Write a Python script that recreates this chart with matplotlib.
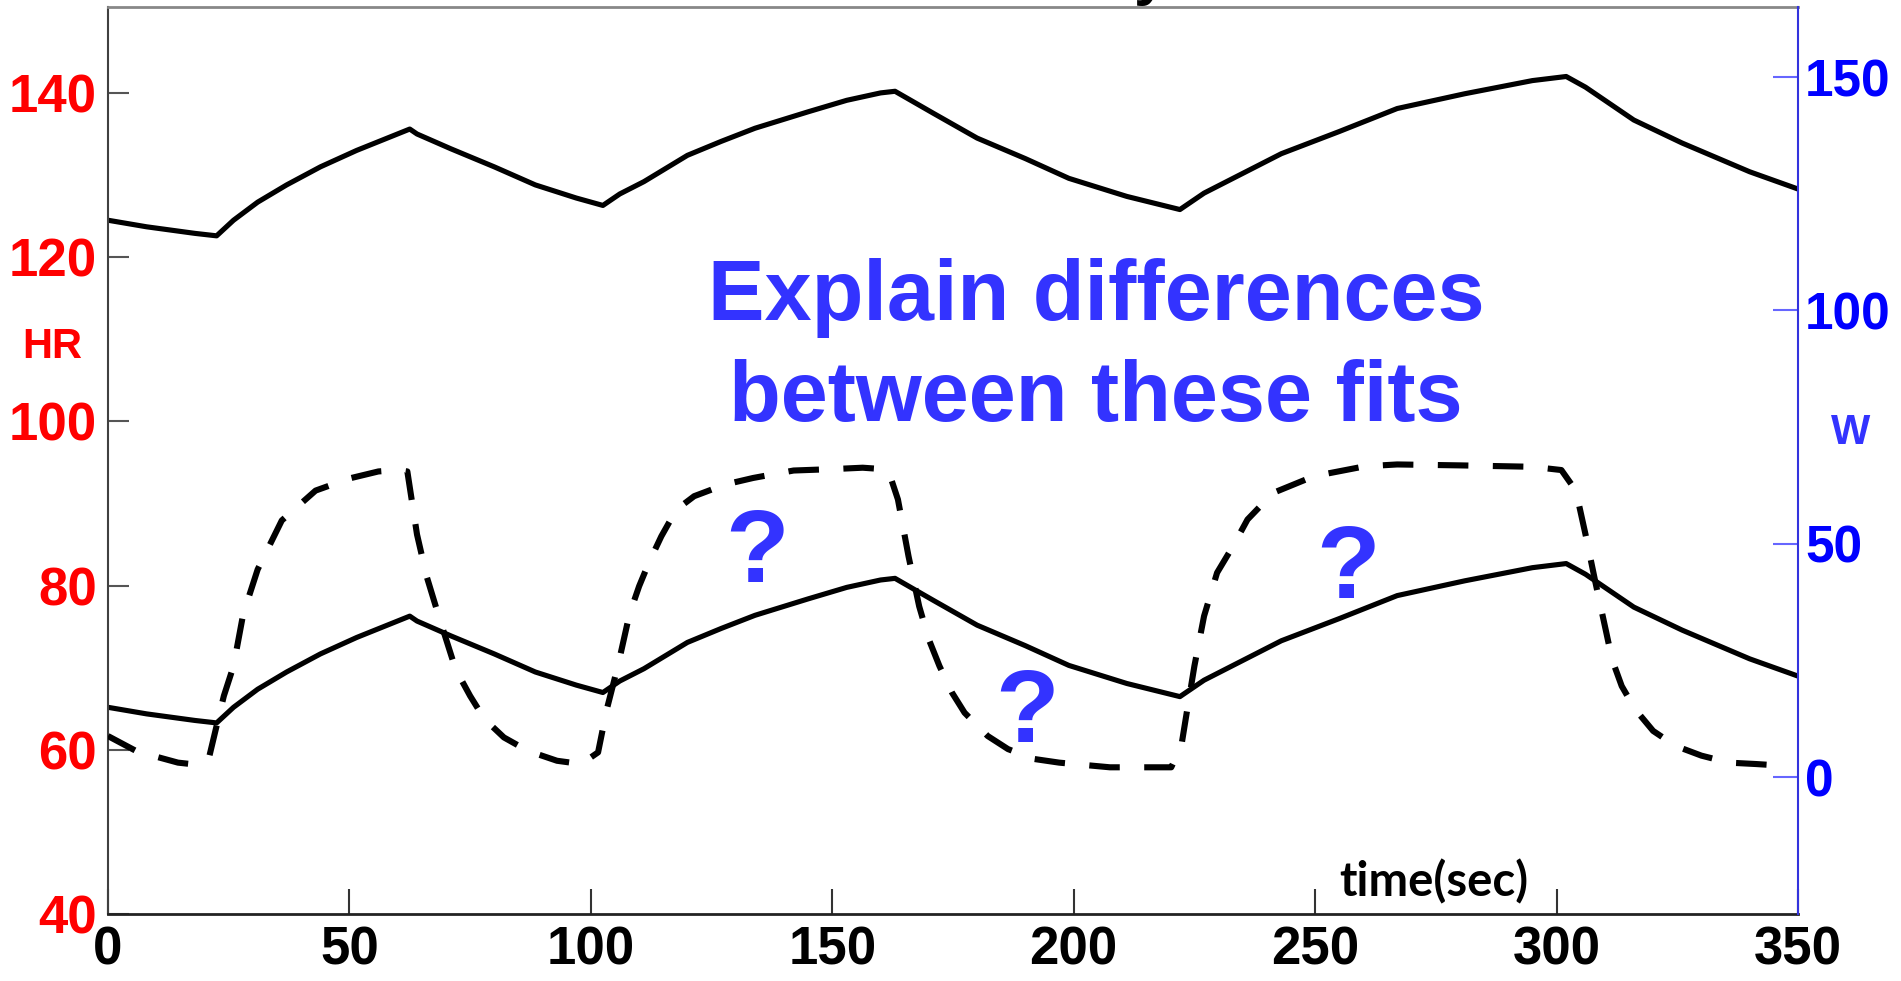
import numpy as np
import matplotlib
matplotlib.use("Agg")
from matplotlib import pyplot as plt

plt.rcParams['font.family'] = ['Liberation Sans', 'DejaVu Sans']
plt.rcParams['font.weight'] = 'bold'

# heart rate (left axis)
t_hr = [0, 8, 18, 22.5, 26, 31, 37, 44, 51.5, 57, 62.5, 64, 71, 80, 88.5, 97, 102.5,
        106, 111, 120, 127, 134, 145, 153, 160, 163, 171, 180, 190, 199, 211, 222,
        227, 235, 243, 255, 267, 281, 295, 302, 306, 316, 326, 340, 350]
hr_top = [124.5, 123.7, 122.9, 122.6, 124.5, 126.7, 128.8, 131.0, 133.0, 134.3, 135.6,
          135.0, 133.2, 131.0, 128.8, 127.2, 126.3, 127.7, 129.2, 132.4, 134.1, 135.7,
          137.7, 139.1, 140.0, 140.2, 137.5, 134.5, 132.0, 129.6, 127.4, 125.8, 127.8,
          130.2, 132.6, 135.3, 138.1, 139.9, 141.5, 142.0, 140.7, 136.7, 133.9, 130.4, 128.3]
hr_low = [65.2, 64.4, 63.6, 63.3, 65.2, 67.4, 69.5, 71.7, 73.7, 75.0, 76.3, 75.7, 73.9,
          71.7, 69.5, 67.9, 67.0, 68.4, 69.9, 73.1, 74.8, 76.4, 78.4, 79.8, 80.7, 80.9,
          78.2, 75.2, 72.7, 70.3, 68.1, 66.5, 68.5, 70.9, 73.3, 76.0, 78.8, 80.6, 82.2,
          82.7, 81.4, 77.4, 74.6, 71.1, 69.0]

# work rate W (right axis)
t_w = [0, 6, 14.5, 18, 21, 22.5, 24, 26, 28, 31, 36, 43, 50, 56, 60, 62, 64, 66, 68.5,
       72, 75, 78, 82, 87, 93, 98, 101.5, 103.3, 105.6, 108, 110, 112, 114.6, 117.7,
       121.4, 127.8, 133.6, 142, 150, 156.3, 160.5, 162, 163.6, 165.8, 168, 170, 172.2,
       174.8, 177.4, 182.2, 186.4, 191.7, 197, 207.5, 220.2, 222.3, 223.3, 225, 227,
       229.7, 233, 236, 241.3, 249.8, 260.3, 267, 280, 295, 301, 304, 306, 308, 310.3,
       311.5, 313.5, 316.3, 320, 324.6, 330, 335.7, 341.3, 347.5]
w = [8.8, 5.5, 3.1, 2.7, 4.5, 11.0, 17.4, 23.8, 34.9, 44.5, 55.0, 61.4, 64.0, 65.5,
     65.8, 65.5, 52.0, 43.0, 34.5, 23.1, 17.4, 12.4, 8.5, 5.6, 3.5, 2.8, 5.3, 14.5,
     23.8, 34.9, 40.9, 45.9, 51.6, 57.3, 60.2, 62.7, 64.1, 65.7, 66.0, 66.3, 66.0,
     64.5, 59.5, 47.3, 36.6, 29.5, 23.8, 18.1, 13.8, 8.8, 6.0, 3.9, 3.1, 2.1, 2.1,
     6.7, 13.1, 23.8, 34.5, 43.8, 49.5, 55.2, 60.9, 64.5, 66.6, 67.0, 66.8, 66.5,
     65.8, 61.4, 52.0, 42.0, 31.0, 25.2, 19.5, 14.5, 9.9, 6.7, 4.6, 3.1, 2.8, 2.4]

x_ticks = [0, 50, 100, 150, 200, 250, 300, 350]
hr_ticks = [40, 60, 80, 100, 120, 140]
w_ticks = [0, 50, 100, 150]

fig = plt.figure(figsize=(19.01, 9.81), dpi=100)
ax = fig.add_axes([0.0568, 0.068, 0.889, 0.9252])
ax2 = ax.twinx()

ax.plot(t_hr, hr_top, color='black', linewidth=3.7)
ax.plot(t_hr, hr_low, color='black', linewidth=3.7)
ax2.plot(t_w, w, color='black', linewidth=4.4, linestyle=(0, (5, 4)))

ax.set_xlim(0, 350)
ax.set_ylim(40, 150.5)
ax2.set_ylim(-29.4, 165.1)
ax.set_xticks(x_ticks)
ax.set_yticks(hr_ticks)
ax2.set_yticks(w_ticks)

ax.spines['left'].set_color('#404040')
ax.spines['left'].set_linewidth(1.5)
ax.spines['top'].set_color('#888888')
ax.spines['top'].set_linewidth(2)
ax.spines['bottom'].set_color('#222222')
ax.spines['bottom'].set_linewidth(2)
ax.spines['right'].set_visible(False)
for s in ['left', 'top', 'bottom']:
    ax2.spines[s].set_visible(False)
ax2.spines['right'].set_color('#3333dd')
ax2.spines['right'].set_linewidth(1.5)

ax.tick_params(axis='y', direction='in', length=15, width=1.5, color='#555555',
               labelcolor='red', labelsize=38, pad=8)
ax.tick_params(axis='x', direction='in', length=18, width=1.5, color='#333333',
               labelcolor='black', labelsize=38, pad=8)
ax2.tick_params(axis='y', direction='in', length=18, width=1.5, color='#6666ff',
                labelcolor='#0000ff', labelsize=37, pad=5)

ax.text(-0.033, 0.625, 'HR', transform=ax.transAxes, color='red', fontsize=30,
        fontweight='bold', ha='center', va='center')
ax.text(1.031, 0.53, 'W', transform=ax.transAxes, color='#3333ff', fontsize=30,
        fontweight='bold', ha='center', va='center')
ax.text(274.6, 43.9, 'time(sec)', color='black', fontsize=34, fontweight='bold',
        family=['Lato', 'DejaVu Sans'], ha='center', va='center')

ax.text(204.6, 112.3, 'Explain differences', color='#3333ff', fontsize=61,
        fontweight='bold', ha='center', va='baseline')
ax.text(204.6, 100.1, 'between these fits', color='#3333ff', fontsize=61,
        fontweight='bold', ha='center', va='baseline')
ax.text(134.4, 80.4, '?', color='#3333ff', fontsize=75, fontweight='bold',
        ha='center', va='baseline')
ax.text(190.3, 61.0, '?', color='#3333ff', fontsize=75, fontweight='bold',
        ha='center', va='baseline')
ax.text(256.8, 78.5, '?', color='#3333ff', fontsize=75, fontweight='bold',
        ha='center', va='baseline')

# the slide title sits above the picture; only the tail of its "y" shows
fig.text(0.605, 1.0067, 'y', color='black', fontsize=44, fontweight='bold',
         ha='center', va='baseline')

fig.savefig('out.png', dpi=100)
